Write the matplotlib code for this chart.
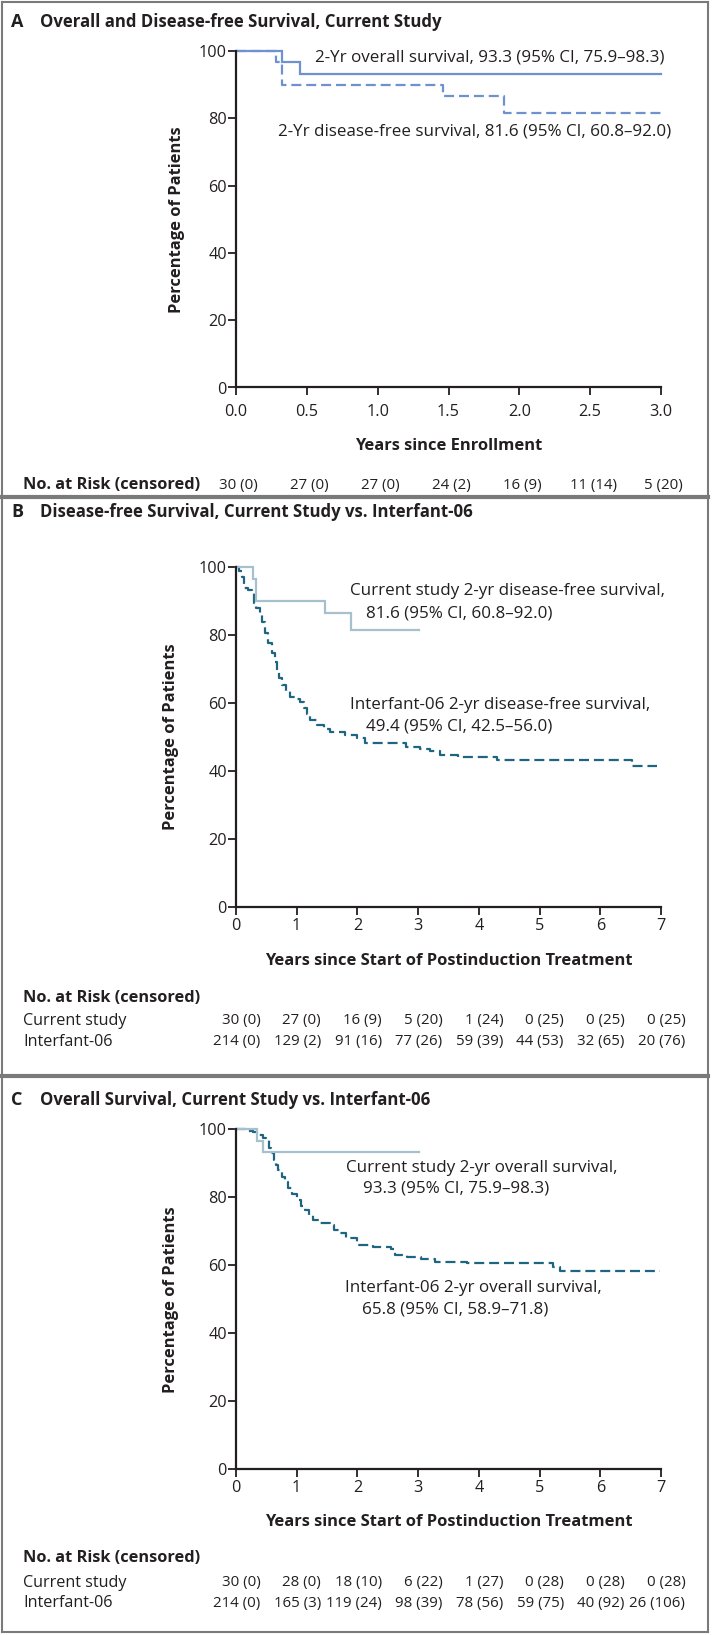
import matplotlib
matplotlib.use("Agg")
import matplotlib.pyplot as plt
from matplotlib import font_manager, transforms
from matplotlib.font_manager import FontProperties
from matplotlib.lines import Line2D

# ---------------- data ----------------
# Panel A (current study)
a_os_t = [0.0, 0.325, 0.455, 3.0]
a_os_v = [100.0, 96.7, 93.3, 93.3]
a_dfs_t = [0.0, 0.28, 0.325, 1.46, 1.89, 3.0]
a_dfs_v = [100.0, 96.7, 90.0, 86.5, 81.6, 81.6]
a_ticks = [0.0, 0.5, 1.0, 1.5, 2.0, 2.5, 3.0]
a_risk_n = [30, 27, 27, 24, 16, 11, 5]
a_risk_c = [0, 0, 0, 2, 9, 14, 20]

# Panel B (disease-free survival)
b_cur_t = [0.0, 0.285, 0.33, 1.47, 1.90, 3.02]
b_cur_v = [100.0, 96.7, 90.0, 86.5, 81.6, 81.6]
b_int_t = [0.0, 0.05, 0.10, 0.14, 0.20, 0.26, 0.29, 0.33, 0.39, 0.43, 0.48, 0.53,
           0.59, 0.64, 0.67, 0.71, 0.75, 0.82, 0.89, 0.97, 1.05, 1.12, 1.17, 1.22,
           1.33, 1.45, 1.55, 1.79, 1.99, 2.12, 2.80, 3.03, 3.20, 3.36, 3.66, 4.30,
           6.52, 6.93]
b_int_v = [100.0, 99.0, 97.0, 93.8, 93.2, 92.8, 89.4, 88.0, 86.4, 84.0, 80.6, 77.8,
           74.7, 72.0, 69.7, 67.5, 65.3, 63.5, 61.9, 61.2, 60.4, 58.5, 56.8, 55.0,
           53.5, 52.3, 51.6, 50.6, 49.6, 48.1, 47.1, 46.5, 45.9, 44.7, 44.0, 43.2,
           41.5, 41.5]
bc_ticks = [0, 1, 2, 3, 4, 5, 6, 7]
b_cur_n = [30, 27, 16, 5, 1, 0, 0, 0]
b_cur_c = [0, 0, 9, 20, 24, 25, 25, 25]
b_int_n = [214, 129, 91, 77, 59, 44, 32, 20]
b_int_c = [0, 2, 16, 26, 39, 53, 65, 76]

# Panel C (overall survival)
c_cur_t = [0.0, 0.34, 0.45, 3.02]
c_cur_v = [100.0, 96.7, 93.3, 93.3]
c_int_t = [0.0, 0.15, 0.28, 0.34, 0.45, 0.50, 0.55, 0.58, 0.62, 0.66, 0.70, 0.75,
           0.80, 0.86, 0.93, 1.00, 1.07, 1.14, 1.20, 1.27, 1.36, 1.55, 1.62, 1.69,
           1.82, 1.99, 2.26, 2.56, 2.62, 2.81, 3.05, 3.27, 3.80, 5.22, 5.33, 6.98]
c_int_v = [100.0, 99.6, 99.3, 98.3, 97.3, 96.9, 94.5, 93.0, 91.0, 89.5, 88.0, 86.1,
           84.5, 82.6, 81.0, 79.2, 77.5, 76.3, 74.8, 73.3, 72.4, 71.9, 70.5, 69.4,
           67.9, 66.0, 65.3, 64.7, 63.0, 62.5, 61.8, 61.1, 60.6, 59.6, 58.3, 58.3]
c_cur_n = [30, 28, 18, 6, 1, 0, 0, 0]
c_cur_c = [0, 0, 10, 22, 27, 28, 28, 28]
c_int_n = [214, 165, 119, 98, 78, 59, 40, 26]
c_int_c = [0, 3, 24, 39, 56, 75, 92, 106]

y_ticks = [0, 20, 40, 60, 80, 100]

# ---------------- style ----------------
def pick(cands):
    for c in cands:
        try:
            font_manager.findfont(FontProperties(family=c), fallback_to_default=False)
            return c
        except Exception:
            pass
    return "DejaVu Sans"

FONT = pick(["Open Sans", "Lato", "Liberation Sans"])
plt.rcParams["font.family"] = [FONT, "DejaVu Sans"]

COL_A = "#6E91CF"
COL_CUR = "#A6C0CE"
COL_INT = "#1E6580"
TXT = "#231F20"
BORDER = "#7A7A7A"

W, H = 712, 1635
fig = plt.figure(figsize=(W / 100, H / 100), dpi=100)
renderer = fig.canvas.get_renderer()


def size_for(s, target_px, weight="normal", base=10.0):
    t = fig.text(0, 0, s, fontsize=base, fontweight=weight)
    w = t.get_window_extent(renderer).width
    t.remove()
    return base * target_px / w


S_TITLE = size_for("Overall and Disease-free Survival, Current Study", 401, "bold")
S_ANN = size_for("2-Yr overall survival, 93.3 (95% CI, 75.9\u201398.3)", 350)
S_AXLAB = size_for("Years since Start of Postinduction Treatment", 368, "bold")
S_HEAD = size_for("No. at Risk (censored)", 178, "bold")
S_ROW = size_for("Current study", 104)
S_NUM = size_for("214 (0)", 47)
S_TICK = size_for("100", 28)


def fx(px):
    return px / W


def fy(py):
    return 1 - py / H


def make_axes(top, bottom, xmax, ticks, ticklabels, xpad):
    ax = fig.add_axes([fx(236), fy(bottom), fx(661) - fx(236), fy(top) - fy(bottom)])
    ax.set_xlim(0, xmax)
    ax.set_ylim(0, 100)
    for s in ["top", "right"]:
        ax.spines[s].set_visible(False)
    for s in ["left", "bottom"]:
        ax.spines[s].set_linewidth(1.6)
        ax.spines[s].set_color(TXT)
    ax.set_yticks(y_ticks)
    ax.set_yticklabels([str(v) for v in y_ticks])
    ax.set_xticks(ticks)
    ax.set_xticklabels(ticklabels)
    ax.tick_params(axis="both", direction="out", length=6, width=1.3, color=TXT,
                   labelsize=S_TICK, labelcolor=TXT)
    ax.tick_params(axis="y", pad=0.5)
    ax.tick_params(axis="x", pad=xpad)
    ax.patch.set_alpha(0)
    return ax


def step(ax, t, v, color, dashed, lw=1.6):
    ln, = ax.step(t, v, where="post", color=color, lw=lw, clip_on=False,
                  solid_joinstyle="miter")
    if dashed:
        ln.set_dashes([4.5, 2.2])
    return ln


def risk_str(n, c):
    return f"{n} ({c})"


def ann(ax, x, y, s):
    ax.text(x, y, s, fontsize=S_ANN, color=TXT, va="center", ha="left")


# ---------------- Panel A ----------------
axA = make_axes(51, 387.5, 3.0, a_ticks, [f"{t:.1f}" for t in a_ticks], 6)
step(axA, a_dfs_t, a_dfs_v, COL_A, True)
step(axA, a_os_t, a_os_v, COL_A, False)
ann(axA, 0.557, 98.1, "2-Yr overall survival, 93.3 (95% CI, 75.9\u201398.3)")
ann(axA, 0.296, 76.2, "2-Yr disease-free survival, 81.6 (95% CI, 60.8\u201392.0)")

# ---------------- Panel B ----------------
axB = make_axes(567.3, 906.7, 7, bc_ticks, [str(t) for t in bc_ticks], 2)
step(axB, b_int_t, b_int_v, COL_INT, True)
step(axB, b_cur_t, b_cur_v, COL_CUR, False)
ann(axB, 1.873, 93.1, "Current study 2-yr disease-free survival,")
ann(axB, 2.14, 86.4, "81.6 (95% CI, 60.8\u201392.0)")
ann(axB, 1.873, 59.4, "Interfant-06 2-yr disease-free survival,")
ann(axB, 2.14, 53.0, "49.4 (95% CI, 42.5\u201356.0)")

# ---------------- Panel C ----------------
axC = make_axes(1129.3, 1469.3, 7, bc_ticks, [str(t) for t in bc_ticks], 2)
step(axC, c_int_t, c_int_v, COL_INT, True)
step(axC, c_cur_t, c_cur_v, COL_CUR, False)
ann(axC, 1.81, 88.5, "Current study 2-yr overall survival,")
ann(axC, 2.087, 82.6, "93.3 (95% CI, 75.9\u201398.3)")
ann(axC, 1.80, 53.3, "Interfant-06 2-yr overall survival,")
ann(axC, 2.08, 46.9, "65.8 (95% CI, 58.9\u201371.8)")

# ---------------- labels & titles ----------------
titles = [("A", "Overall and Disease-free Survival, Current Study", 21.7),
          ("B", "Disease-free Survival, Current Study vs. Interfant-06", 511.7),
          ("C", "Overall Survival, Current Study vs. Interfant-06", 1100)]
for letter, title, py in titles:
    fig.text(fx(11), fy(py), letter, fontsize=S_TITLE * 1.08, fontweight="bold",
             color=TXT, va="center", ha="left")
    fig.text(fx(40), fy(py), title, fontsize=S_TITLE, fontweight="bold", color=TXT,
             va="center", ha="left")

for ax, ylab_x, top, bottom, xlab, xlab_y in [
        (axA, 177, 51, 387.5, "Years since Enrollment", 446),
        (axB, 171, 567.3, 906.7, "Years since Start of Postinduction Treatment", 960.7),
        (axC, 171, 1129.3, 1469.3, "Years since Start of Postinduction Treatment", 1521.7)]:
    fig.text(fx(ylab_x), fy((top + bottom) / 2), "Percentage of Patients", rotation=90,
             fontsize=S_AXLAB, fontweight="bold", color=TXT, ha="center", va="center")
    fig.text(fx(448.5), fy(xlab_y), xlab, fontsize=S_AXLAB, fontweight="bold",
             color=TXT, ha="center", va="center")

# ---------------- at-risk tables ----------------
trA = transforms.blended_transform_factory(axA.transData, fig.transFigure)
fig.text(fx(23), fy(485), "No. at Risk (censored)", fontsize=S_HEAD, fontweight="bold",
         color=TXT, ha="left", va="center")
for t, n, c in zip(a_ticks, a_risk_n, a_risk_c):
    axA.text(t + 0.02, fy(485), risk_str(n, c), transform=trA, fontsize=S_NUM,
             color=TXT, ha="center", va="center")

for ax, head_y, rows in [
        (axB, 997.7, [("Current study", 1020.7, b_cur_n, b_cur_c),
                      ("Interfant-06", 1041.7, b_int_n, b_int_c)]),
        (axC, 1558.3, [("Current study", 1582.7, c_cur_n, c_cur_c),
                       ("Interfant-06", 1603.3, c_int_n, c_int_c)])]:
    tr = transforms.blended_transform_factory(ax.transData, fig.transFigure)
    fig.text(fx(23), fy(head_y), "No. at Risk (censored)", fontsize=S_HEAD,
             fontweight="bold", color=TXT, ha="left", va="center")
    for label, py, ns, cs in rows:
        fig.text(fx(23), fy(py), label, fontsize=S_ROW, color=TXT, ha="left", va="center")
        for t, n, c in zip(bc_ticks, ns, cs):
            ax.text(t + 0.40, fy(py), risk_str(n, c), transform=tr, fontsize=S_NUM,
                    color=TXT, ha="right", va="center")

# ---------------- frame ----------------
def hline(py, lw):
    fig.add_artist(Line2D([fx(2), fx(708)], [fy(py), fy(py)], color=BORDER, lw=lw))


def vline(px, lw):
    fig.add_artist(Line2D([fx(px), fx(px)], [fy(2), fy(1632)], color=BORDER, lw=lw))


hline(2, 1.5)
hline(1632, 1.5)
vline(2, 1.5)
vline(708, 1.5)
hline(497, 3)
hline(1076, 3)

fig.savefig("out.png", dpi=100)
